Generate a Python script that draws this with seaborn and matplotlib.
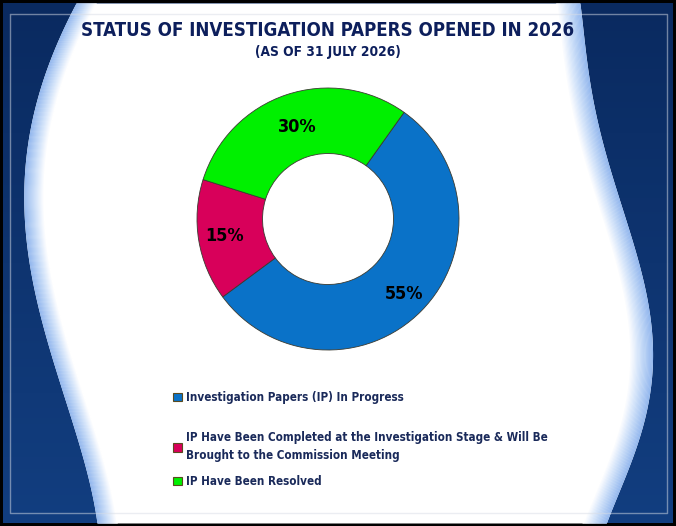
import numpy as np
import matplotlib.pyplot as plt
import matplotlib.colors as mcolors
from matplotlib import font_manager as fm
import seaborn as sns

# data
labels = ['Investigation Papers (IP) In Progress',
          'IP Have Been Completed at the Investigation Stage & Will Be\nBrought to the Commission Meeting',
          'IP Have Been Resolved']
values = [55, 15, 30]
colors = ['#0a72c8', '#d8005a', '#00f000']

title = 'STATUS OF INVESTIGATION PAPERS OPENED IN 2026'
subtitle = '(AS OF 31 JULY 2026)'

sns.set_theme(style='white')

# look for a condensed bold face, the reference uses a narrow font
wanted = ['notosans-extracondensedbold.', 'notosans-condensedbold.',
          'dejavusanscondensed-bold.', 'liberationsansnarrow-bold.']
files = {f.fname.split('/')[-1].lower(): f.fname for f in fm.fontManager.ttflist}
bold_file = None
for w in wanted:
    hit = [v for k, v in files.items() if k.startswith(w)]
    if hit:
        bold_file = hit[0]
        break
if bold_file:
    fp = fm.FontProperties(fname=bold_file)
else:
    fp = fm.FontProperties(family='Roboto', weight='bold')
plt.rcParams['font.family'] = ['Roboto', 'DejaVu Sans']

W, H = 676, 526
fig = plt.figure(figsize=(W / 100, H / 100), dpi=100)
fig.patch.set_facecolor('black')


def fit_width(txt, target):
    # scale the font size so the text spans about target pixels
    r = fig.canvas.get_renderer()
    for _ in range(3):
        w = txt.get_window_extent(r).width
        txt.set_fontsize(txt.get_fontsize() * target / w)


# background panel
bg = fig.add_axes([0, 0, 1, 1], zorder=-1)
bg.set_xlim(0, W)
bg.set_ylim(H, 0)
bg.axis('off')
navy = mcolors.LinearSegmentedColormap.from_list('navy', ['#0a2a60', '#123e80'])
grad = np.linspace(0, 1, 200).reshape(-1, 1)
bg.imshow(grad, cmap=navy, extent=(3, W - 3, H - 3, 3), aspect='auto')

# white wave in the middle
yy = np.linspace(3, H - 3, 300)
ly = [3, 60, 120, 180, 240, 300, 360, 420, 470, 523]
lx = [76, 50, 32, 24, 26, 37, 52, 72, 86, 97]
ry = [3, 60, 120, 180, 240, 300, 340, 380, 420, 460, 500, 523]
rx = [580, 586, 598, 613, 631, 648, 653, 651, 643, 632, 616, 606]
left = np.polyval(np.polyfit(ly, lx, 4), yy)
right = np.polyval(np.polyfit(ry, rx, 5), yy)
bg.fill_betweenx(yy, left, right, color='white', lw=0)
glow = mcolors.LinearSegmentedColormap.from_list('glow', ['#94b8ee', '#c8dcf8', '#ffffff'])
n = 20
for k in range(n):
    c = glow(k / (n - 1))
    bg.fill_betweenx(yy, left + k * 1.0, left + (k + 1) * 1.0 + 0.5, color=c, lw=0)
    bg.fill_betweenx(yy, right - (k + 1) * 1.2 - 0.5, right - k * 1.2, color=c, lw=0)
bg.plot([10, 667, 667, 10, 10], [14, 14, 513, 513, 14], color='#d8dde6', lw=1.0, alpha=0.5)

# donut
ax = fig.add_axes([197 / W, 1 - 350 / H, 262 / W, 262 / H])
wedges, texts, autotexts = ax.pie(
    values, colors=colors, startangle=54.5, counterclock=False,
    autopct='%1.0f%%', pctdistance=0.8,
    wedgeprops=dict(width=0.5, edgecolor='#3a3a30', linewidth=0.6),
    textprops=dict(color='black', fontproperties=fp))
for t, f in zip(autotexts, [1.02, 1.0, 0.93]):
    x, y = t.get_position()
    t.set_position((x * f, y * f))
    t.set_fontsize(13)
ax.set_xlim(-1, 1)
ax.set_ylim(-1, 1)
ax.set_aspect('equal')
ax.axis('off')

# titles
t1 = fig.text(328 / W, 1 - 31 / H, title, ha='center', va='center',
              fontproperties=fp, fontsize=15, color='#0d1f5c')
fit_width(t1, 492)
t2 = fig.text(328 / W, 1 - 52 / H, subtitle, ha='center', va='center',
              fontproperties=fp, fontsize=11, color='#0d1f5c')
fit_width(t2, 146)

# legend, one entry per block
probe = fig.text(0, 0, labels[1].split('\n')[0], fontproperties=fp, fontsize=10)
fit_width(probe, 362)
lsize = probe.get_fontsize()
probe.remove()
lp = fp.copy()
lp.set_size(lsize)
tops = [391, 431, 475]
for w, lab, top in zip(wedges, labels, tops):
    lg = fig.legend([w], [lab], loc='upper left', bbox_to_anchor=(173 / W, 1 - top / H),
                    frameon=False, handlelength=0.8, handleheight=0.8, handletextpad=0.3,
                    borderaxespad=0, borderpad=0, prop=lp, labelcolor='#1a2a5a')
    for tx in lg.get_texts():
        tx.set_linespacing(1.45)
    for h in lg.legend_handles:
        h.set_edgecolor('#5a4a20')
        h.set_linewidth(0.8)

fig.savefig('out.png', dpi=100, facecolor=fig.get_facecolor())
